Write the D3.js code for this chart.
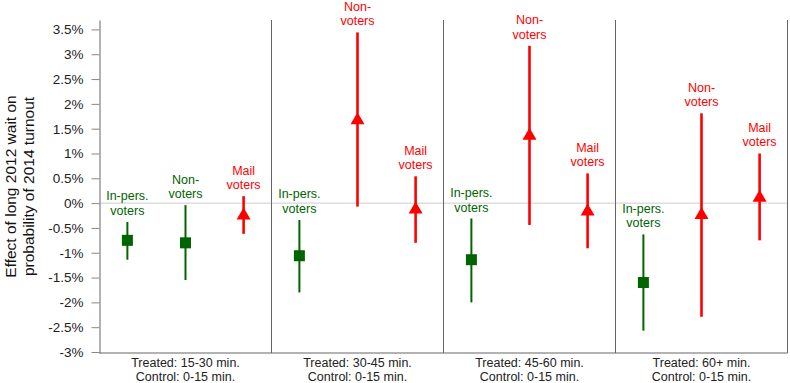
<!DOCTYPE html>
<html>
<head>
<meta charset="utf-8">
<script src="https://cdn.jsdelivr.net/npm/d3@7"></script>
<style>
    body { margin: 0; background: #fff; }
    svg { display: block; font-family: "Liberation Sans", Arial, sans-serif; }
</style>
</head>
<body>
<div id="graph"></div>
<script>

// Data (percentage points)

const panelTreated = ["Treated: 15-30 min.", "Treated: 30-45 min.", "Treated: 45-60 min.", "Treated: 60+ min."];
const panelControl = ["Control: 0-15 min.", "Control: 0-15 min.", "Control: 0-15 min.", "Control: 0-15 min."];

const groups = ["inperson", "nonvoters", "mail"];
const groupLabels = [["In-pers.", "voters"], ["Non-", "voters"], ["Mail", "voters"]];

// kind: "sq" = green square, "tri" = red triangle
const inPersonEst = [-0.75, -1.06, -1.14, -1.60];
const inPersonLo = [-1.14, -1.80, -2.00, -2.57];
const inPersonHi = [-0.38, -0.34, -0.31, -0.63];
const inPersonKind = ["sq", "sq", "sq", "sq"];

const nonVotersEst = [-0.80, 1.71, 1.40, -0.20];
const nonVotersLo = [-1.55, -0.07, -0.44, -2.29];
const nonVotersHi = [-0.04, 3.44, 3.17, 1.81];
const nonVotersKind = ["sq", "tri", "tri", "tri"];

const mailEst = [-0.21, -0.09, -0.13, 0.15];
const mailLo = [-0.62, -0.80, -0.91, -0.75];
const mailHi = [0.14, 0.54, 0.60, 1.00];
const mailKind = ["tri", "tri", "tri", "tri"];

const yTicks = [-3, -2.5, -2, -1.5, -1, -0.5, 0, 0.5, 1, 1.5, 2, 2.5, 3, 3.5];
const yTickLabels = ["-3%", "-2.5%", "-2%", "-1.5%", "-1%", "-0.5%", "0%", "0.5%", "1%", "1.5%", "2%", "2.5%", "3%", "3.5%"];

const yTitle = ["Effect of long 2012 wait on", "probability of 2014 turnout"];


// Tidy data

const series = [
    { key: "inperson", est: inPersonEst, lo: inPersonLo, hi: inPersonHi, kind: inPersonKind },
    { key: "nonvoters", est: nonVotersEst, lo: nonVotersLo, hi: nonVotersHi, kind: nonVotersKind },
    { key: "mail", est: mailEst, lo: mailLo, hi: mailHi, kind: mailKind }
];

const tidyData = [];
series.forEach((s, g) => {
    panelTreated.forEach((p, i) => {
        tidyData.push({
            panel: p,
            group: s.key,
            label: groupLabels[g],
            kind: s.kind[i],
            est: s.est[i],
            lo: s.lo[i],
            hi: s.hi[i]
        });
    });
});

// Styles

const green = "#006400";
const red = "#ff0000";
const colorOf = { sq: green, tri: red };
const lineOf = { sq: 2, tri: 2.6 };


// SVG canvas

const width = 790;
const height = 383;
const plotLeft = 99.5;
const plotRight = 787.5;
const plotTop = 20;
const plotBottom = 353;

const svg = d3.select("#graph")
    .append("svg")
    .attr("width", width)
    .attr("height", height);


// Scales

const scaleY = d3.scaleLinear()
    .domain([-3.02, 3.69])
    .range([plotBottom, plotTop]);

const scalePanel = d3.scaleBand()
    .domain(panelTreated)
    .range([plotLeft, plotRight]);

const scaleGroup = d3.scalePoint()
    .domain(groups)
    .range([0, scalePanel.bandwidth()])
    .padding(0.48);

const xOf = d => scalePanel(d.panel) + scaleGroup(d.group);


// Zero reference line

svg.append("line")
    .attr("x1", plotLeft)
    .attr("x2", plotRight)
    .attr("y1", scaleY(0))
    .attr("y2", scaleY(0))
    .attr("stroke", "#cccccc")
    .attr("stroke-width", 1);


// Panel frames

svg.selectAll(".sep")
    .data(panelTreated)
    .join("line")
    .attr("class", "sep")
    .attr("x1", d => scalePanel(d) + scalePanel.bandwidth())
    .attr("x2", d => scalePanel(d) + scalePanel.bandwidth())
    .attr("y1", plotTop)
    .attr("y2", plotBottom)
    .attr("stroke", "#666666")
    .attr("stroke-width", 1);

svg.append("line")
    .attr("x1", plotLeft)
    .attr("x2", plotRight)
    .attr("y1", plotBottom)
    .attr("y2", plotBottom)
    .attr("stroke", "#666666")
    .attr("stroke-width", 1);


// Y axis

const yAxis = g => g
    .attr("transform", `translate(${plotLeft}, 0)`)
    .call(d3.axisLeft(scaleY)
        .tickValues(yTicks)
        .tickFormat((d, i) => yTickLabels[i])
        .tickSize(8)
        .tickSizeOuter(0)
        .tickPadding(8))
    .call(g => g.select(".domain").attr("stroke", "#666666"))
    .call(g => g.selectAll(".tick line").attr("stroke", "#888888"))
    .call(g => g.selectAll(".tick text")
        .attr("font-size", "13.5px")
        .attr("fill", "#222222"));

svg.append("g")
    .call(yAxis);

svg.append("text")
    .attr("transform", `translate(16, ${(plotTop + plotBottom) / 2}) rotate(-90)`)
    .attr("text-anchor", "middle")
    .attr("font-size", "15.5px")
    .attr("fill", "#111111")
    .selectAll("tspan")
    .data(yTitle)
    .join("tspan")
    .attr("x", 0)
    .attr("y", (d, i) => i * 18)
    .text(d => d);


// Panel captions

const captions = svg.selectAll(".caption")
    .data(panelTreated)
    .join("text")
    .attr("class", "caption")
    .attr("text-anchor", "middle")
    .attr("font-size", "12.5px")
    .attr("fill", "#222222");

captions.append("tspan")
    .attr("x", d => scalePanel(d) + scalePanel.bandwidth() / 2)
    .attr("y", 367)
    .text(d => d);

captions.append("tspan")
    .attr("x", d => scalePanel(d) + scalePanel.bandwidth() / 2)
    .attr("y", 381)
    .text((d, i) => panelControl[i]);


// Confidence intervals

svg.selectAll(".ci")
    .data(tidyData)
    .join("line")
    .attr("class", "ci")
    .attr("x1", xOf)
    .attr("x2", xOf)
    .attr("y1", d => scaleY(d.lo))
    .attr("y2", d => scaleY(d.hi))
    .attr("stroke", d => colorOf[d.kind])
    .attr("stroke-width", d => lineOf[d.kind]);


// Point estimates

svg.selectAll(".square")
    .data(tidyData.filter(d => d.kind === "sq"))
    .join("rect")
    .attr("class", "square")
    .attr("x", d => xOf(d) - 5.5)
    .attr("y", d => scaleY(d.est) - 5.5)
    .attr("width", 11)
    .attr("height", 11)
    .attr("fill", green);

svg.selectAll(".triangle")
    .data(tidyData.filter(d => d.kind === "tri"))
    .join("path")
    .attr("class", "triangle")
    .attr("d", d => {
        const x = xOf(d);
        const y = scaleY(d.est);
        return `M${x},${y - 6}L${x + 7},${y + 6}L${x - 7},${y + 6}Z`;
    })
    .attr("fill", red);


// Group labels above each interval

const labels = svg.selectAll(".glabel")
    .data(tidyData)
    .join("text")
    .attr("class", "glabel")
    .attr("text-anchor", "middle")
    .attr("font-size", "12.5px")
    .attr("fill", d => colorOf[d.kind]);

labels.append("tspan")
    .attr("x", xOf)
    .attr("y", d => scaleY(d.hi) - 21.5)
    .text(d => d.label[0]);

labels.append("tspan")
    .attr("x", xOf)
    .attr("y", d => scaleY(d.hi) - 7)
    .text(d => d.label[1]);

</script>
</body>
</html>
